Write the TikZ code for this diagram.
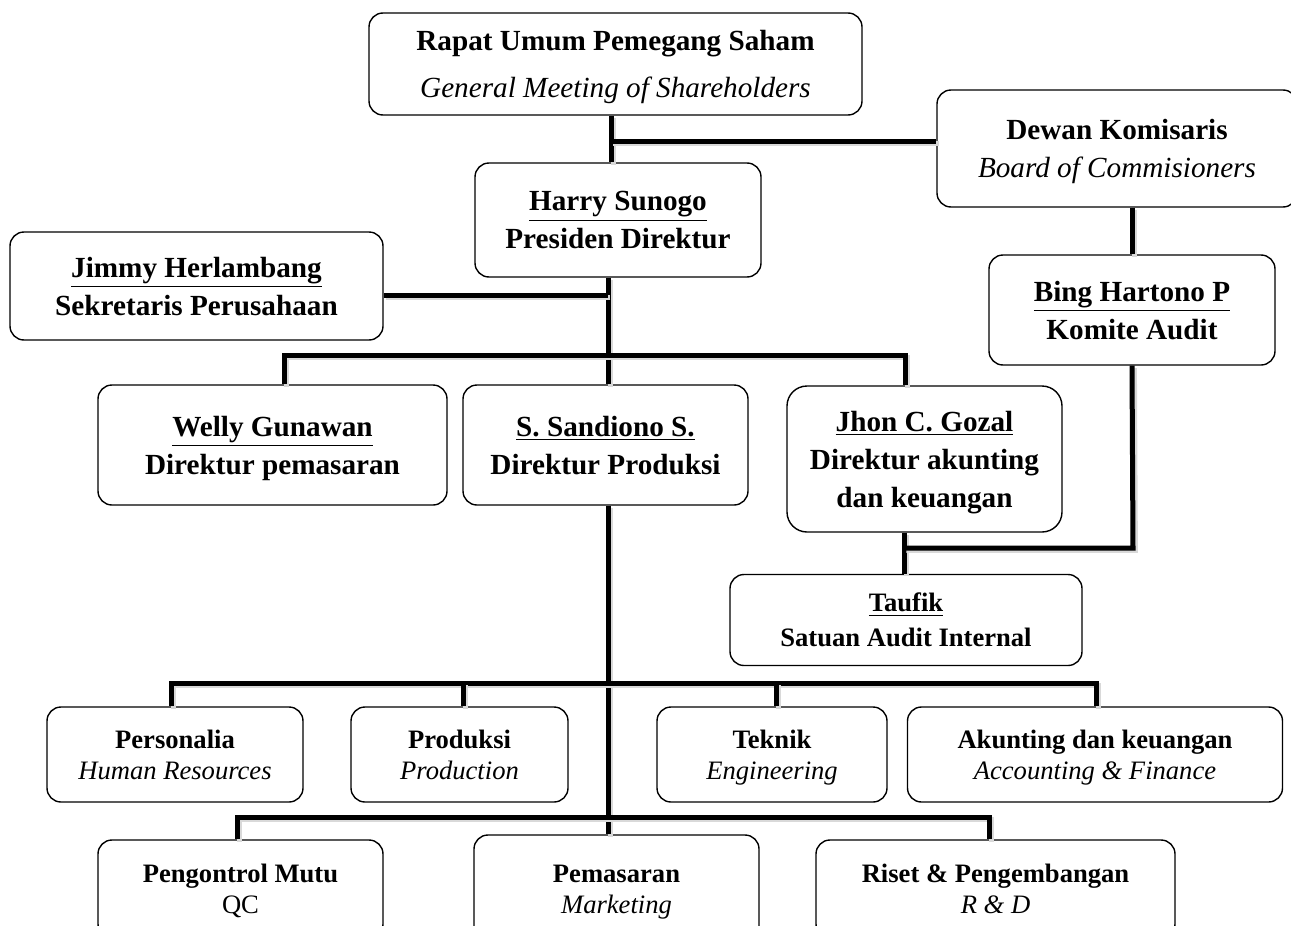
\documentclass[tikz,border=0pt]{standalone}
\usepackage{fontspec}
\setmainfont{Liberation Serif}
\newcommand{\bigtxt}{\fontsize{14.6}{19}\selectfont}
\newcommand{\toptxt}{\fontsize{14.6}{23.5}\selectfont}
\newcommand{\midtxt}{\fontsize{13.3}{17.5}\selectfont}
\newcommand{\smalltxt}{\fontsize{13.3}{15.5}\selectfont}

\begin{document}
\begin{tikzpicture}[x=0.5pt, y=-0.5pt,
        box/.style={draw, line width=0.7pt, rounded corners=7pt, align=center, inner sep=0pt, text depth=0pt, font=\bigtxt},
        person/.style={box, font=\bigtxt\bfseries},
        unit/.style={box, font=\smalltxt},
        link/.style={line width=2.5pt,
            preaction={draw=black!15, line width=2.5pt, transform canvas={shift={(1.2pt,-1.2pt)}}}}]
            \useasboundingbox (0, 0) rectangle (1291, 926);
            \clip (0, 0) rectangle (1291, 926);

            \node[box, font=\toptxt, minimum width=246.5pt, minimum height=51pt] (rups) at (615.5, 64) {\textbf{Rapat Umum Pemegang Saham}\\ \textit{General Meeting of Shareholders}};
            \node[box, minimum width=180pt, minimum height=58.5pt] (dewan) at (1117, 148.5) {\textbf{Dewan Komisaris}\\ \textit{Board of Commisioners}};
            \node[person, minimum width=143pt, minimum height=57pt] (harry) at (618, 220) {\underline{Harry Sunogo}\\ Presiden Direktur};
            \node[person, minimum width=186.5pt, minimum height=54pt] (jimmy) at (196.5, 286) {\underline{Jimmy Herlambang}\\ Sekretaris Perusahaan};
            \node[person, minimum width=143pt, minimum height=55pt] (bing) at (1132, 310) {\underline{Bing Hartono P}\\ Komite Audit};

            \node[person, minimum width=174.5pt, minimum height=60pt] (welly) at (272.5, 445) {\underline{Welly Gunawan}\\ Direktur pemasaran};
            \node[person, minimum width=142.5pt, minimum height=60pt] (sandiono) at (605.5, 445) {\underline{S. Sandiono S.}\\ Direktur Produksi};
            \node[person, rounded corners=10pt, minimum width=137.5pt, minimum height=73pt] (jhon) at (924.5, 459) {\underline{Jhon C. Gozal}\\ Direktur akunting\\ dan keuangan};
            \node[box, font=\midtxt\bfseries, minimum width=176pt, minimum height=45.5pt] (taufik) at (906, 620) {\underline{Taufik}\\ Satuan Audit Internal};

            % bagian
            \node[unit, minimum width=128pt, minimum height=47.5pt] (personalia) at (175, 754.5) {\textbf{Personalia}\\ \textit{Human Resources}};
            \node[unit, minimum width=108.5pt, minimum height=47.5pt] (produksi) at (459.5, 754.5) {\textbf{Produksi}\\ \textit{Production}};
            \node[unit, minimum width=115pt, minimum height=47.5pt] (teknik) at (772, 754.5) {\textbf{Teknik}\\ \textit{Engineering}};
            \node[unit, minimum width=187.5pt, minimum height=47.5pt] (akunting) at (1095, 754.5) {\textbf{Akunting dan keuangan}\\ \textit{Accounting \& Finance}};

            \node[unit, minimum width=142.5pt, minimum height=49pt] (mutu) at (240.5, 889) {\textbf{Pengontrol Mutu}\\ QC};
            \node[unit, minimum width=142.5pt, minimum height=54pt] (pemasaran) at (616.5, 889) {\textbf{Pemasaran}\\ \textit{Marketing}};
            \node[unit, minimum width=179.5pt, minimum height=49pt] (riset) at (995.5, 889) {\textbf{Riset \& Pengembangan}\\ \textit{R \& D}};

            \coordinate (t1) at (611, 141);
            \coordinate (t2) at (608, 295);
            \coordinate (d1) at (284, 355);
            \coordinate (d2) at (905, 355);
            \coordinate (t4) at (608, 683);
            \coordinate (r1) at (171, 683);
            \coordinate (r2) at (463, 683);
            \coordinate (r3) at (776, 683);
            \coordinate (r4) at (1096, 683);
            \coordinate (s1) at (237, 817);
            \coordinate (s2) at (989, 817);
            \coordinate (a1) at (904, 548);
            \coordinate (a2) at (1133, 548);

            \draw[link] (rups.south -| t1) -- (harry.north -| t1);
            \draw[link] (t1) -- (t1 -| dewan.west);
            \draw[link] (bing.north |- dewan.south) -- (bing.north);

            \draw[link] (harry.south -| t2) -- (sandiono.north -| t2);
            \draw[link] (t2) -- (t2 -| jimmy.east);
            \draw[link] (welly.north -| d1) -- (d1) -- (d2) -- (jhon.north -| d2);

            \draw[link] (jhon.south -| a1) -- (taufik.north -| a1);
            \draw[link] (bing.south) -- (a2) -- (a1);

            \draw[link] (sandiono.south -| t4) -- (pemasaran.north -| t4);
            \draw[link] (personalia.north -| r1) -- (r1) -- (r4) -- (akunting.north -| r4);
            \draw[link] (produksi.north -| r2) -- (r2);
            \draw[link] (teknik.north -| r3) -- (r3);
            \draw[link] (mutu.north -| s1) -- (s1) -- (s2) -- (riset.north -| s2);

        \end{tikzpicture}
\end{document}
